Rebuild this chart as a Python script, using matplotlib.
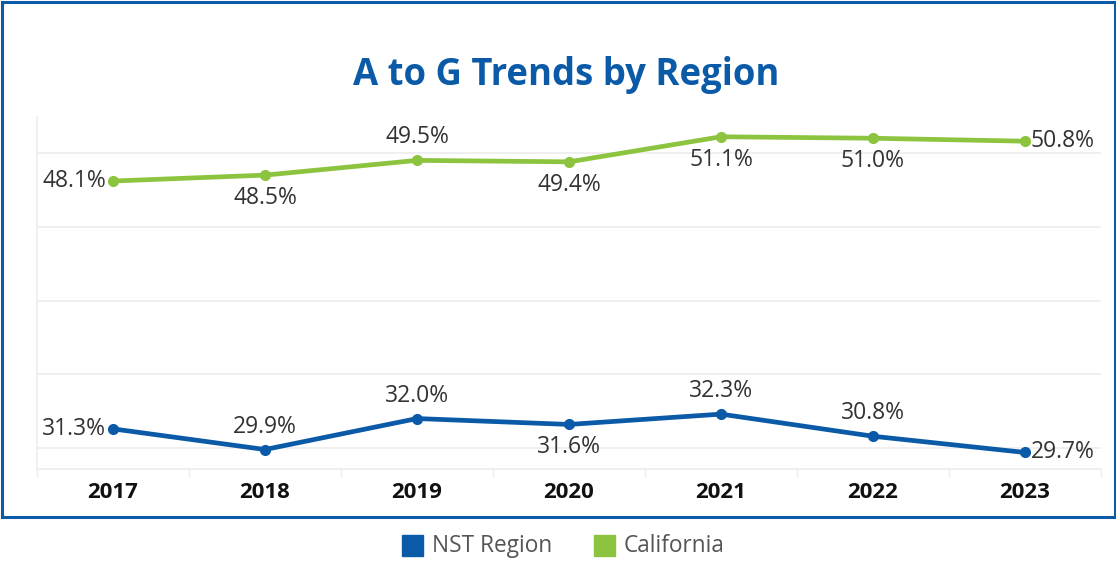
import matplotlib.pyplot as plt
from matplotlib.patches import Rectangle

years = ['2017', '2018', '2019', '2020', '2021', '2022', '2023']
nst = [31.3, 29.9, 32.0, 31.6, 32.3, 30.8, 29.7]
california = [48.1, 48.5, 49.5, 49.4, 51.1, 51.0, 50.8]
nst_pos = ['left', 'above', 'above', 'below', 'above', 'above', 'right']
cal_pos = ['left', 'below', 'above', 'below', 'below', 'below', 'right']

blue = '#0b5aa7'
green = '#8cc43f'
font = 'Open Sans'

fig = plt.figure(figsize=(11.16, 5.63), dpi=100)
ax = fig.add_axes([37 / 1116, 94 / 563, 1064 / 1116, 352 / 563])

x = list(range(len(years)))
ax.plot(x, nst, color=blue, lw=3.4, marker='o', ms=7, solid_capstyle='round', zorder=3)
ax.plot(x, california, color=green, lw=3.4, marker='o', ms=7, solid_capstyle='round', zorder=3)


def label(vals, pos):
    for i, (v, p) in enumerate(zip(vals, pos)):
        if p == 'left':
            off, ha = (-5, 0), 'right'
        elif p == 'right':
            off, ha = (4, 0), 'left'
        elif p == 'above':
            off, ha = (0, 16.5), 'center'
        else:
            off, ha = (0, -16.5), 'center'
        ax.annotate(f'{v:.1f}%', (i, v), xytext=off, textcoords='offset points',
                    ha=ha, va='center', fontsize=16.5, color='#333333', family=font)


label(nst, nst_pos)
label(california, cal_pos)

ax.set_xlim(-0.5, 6.5)
ax.set_ylim(28.58, 52.44)
ax.set_yticks([30, 35, 40, 45, 50])
ax.yaxis.grid(True, color='#ececec', lw=1.2)
ax.set_axisbelow(True)
ax.tick_params(axis='y', left=False, labelleft=False)
ax.set_xticks(x)
ax.set_xticklabels(years, fontsize=16, fontweight='bold', color='#111111', family=font)
ax.tick_params(axis='x', length=0, pad=9)
ax.set_xticks([i + 0.5 for i in range(-1, 7)], minor=True)
ax.tick_params(axis='x', which='minor', length=6, color='#ececec', width=1)
for s in ['top', 'right']:
    ax.spines[s].set_visible(False)
ax.spines['left'].set_color('#ececec')
ax.spines['bottom'].set_color('#ececec')
ax.spines['left'].set_linewidth(1.2)
ax.spines['bottom'].set_linewidth(1.2)

fig.text(566 / 1116, 1 - 75 / 563, 'A to G Trends by Region', ha='center', va='center',
         fontsize=26.3, fontweight='bold', color=blue, family=font)

# border around the chart
fig.patches.append(Rectangle((1.5 / 1116, 1 - 517 / 563), 1113 / 1116, 515 / 563,
                             transform=fig.transFigure, fill=False, ec=blue, lw=2.2))

# legend
for sx, col, name in [(402, blue, 'NST Region'), (594, green, 'California')]:
    fig.patches.append(Rectangle((sx / 1116, 1 - 556 / 563), 21 / 1116, 21 / 563,
                                 transform=fig.transFigure, color=col))
    fig.text((sx + 30) / 1116, 1 - 546 / 563, name, ha='left', va='center',
             fontsize=16.3, color='#555555', family=font)

fig.savefig('out.png', dpi=100)
